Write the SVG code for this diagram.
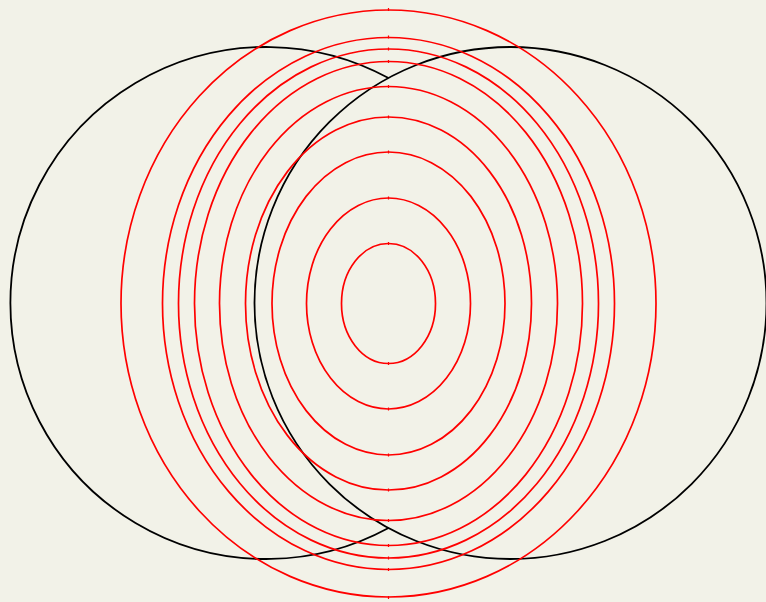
<svg xmlns="http://www.w3.org/2000/svg" width="766" height="602" viewBox="0 0 766 602">
<style>
.bg{fill:#f2f2e8}
.blk{fill:none;stroke:#000;stroke-width:1.8}
.red{fill:none;stroke:#ff0000;stroke-width:1.7}
.tick{stroke:#ff0000;stroke-width:1.2}
</style>
<rect class="bg" x="0" y="0" width="766" height="602"/>
<g id="circles">
<path id="left-circle" class="blk" d="M388.5,78 A256,256 0 1,0 388.5,528"/>
<circle id="right-circle" class="blk" cx="510.5" cy="303" r="256"/>
</g>
<g id="ellipses">
<g id="e1"><ellipse class="red" cx="388.5" cy="303.5" rx="267.5" ry="293.5"/><path class="tick" d="M388.5,8v3M388.5,596v3"/></g>
<g id="e2"><ellipse class="red" cx="388.5" cy="303.5" rx="226" ry="266"/><path class="tick" d="M388.5,35.5v3M388.5,568v3"/></g>
<g id="e3"><ellipse class="red" cx="388.5" cy="303.5" rx="210" ry="254.5"/><path class="tick" d="M388.5,47.5v3M388.5,556.5v3"/></g>
<g id="e4"><ellipse class="red" cx="388.5" cy="303.5" rx="194" ry="242"/><path class="tick" d="M388.5,60v3M388.5,544v3"/></g>
<g id="e5"><ellipse class="red" cx="388.5" cy="303.5" rx="169" ry="217"/><path class="tick" d="M388.5,85v3M388.5,519v3"/></g>
<g id="e6"><ellipse class="red" cx="388.5" cy="303.5" rx="143" ry="186.5"/><path class="tick" d="M388.5,115.5v3M388.5,488.5v3"/></g>
<g id="e7"><ellipse class="red" cx="388.5" cy="303.5" rx="116.5" ry="151.5"/><path class="tick" d="M388.5,150.5v3M388.5,453.5v3"/></g>
<g id="e8"><ellipse class="red" cx="388.5" cy="303.5" rx="82" ry="105.5"/><path class="tick" d="M388.5,196.5v3M388.5,407.5v3"/></g>
<g id="e9"><ellipse class="red" cx="388.5" cy="303.5" rx="47" ry="60"/><path class="tick" d="M388.5,242v3M388.5,362v3"/></g>
</g>
</svg>
